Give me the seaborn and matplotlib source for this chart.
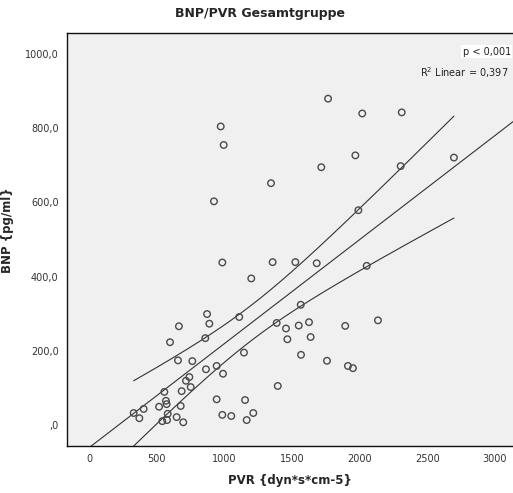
import numpy as np
import pandas as pd
import matplotlib
matplotlib.use("Agg")
import matplotlib.pyplot as plt
import seaborn as sns

# PVR (dyn*s*cm-5) and BNP (pg/ml)
pvr = [972, 994, 1344, 922, 984, 1356, 1524, 1198, 1766, 2019, 2311, 1968,
       1716, 2303, 2697, 1990, 1682, 2052, 871, 663, 888, 1109, 597, 858,
       1386, 1455, 1465, 1144, 656, 762, 863, 942, 989, 740, 715, 750,
       683, 555, 567, 572, 516, 676, 402, 328, 370, 580, 575, 540,
       646, 695, 942, 1152, 984, 1050, 1213, 1164, 1394, 1564, 1549, 1625,
       1637, 1893, 2135, 1566, 1758, 1913, 1950]
bnp = [805, 755, 652, 603, 438, 439, 439, 395, 880, 840, 843, 727,
       695, 698, 721, 579, 436, 429, 299, 266, 273, 291, 223, 234,
       275, 260, 231, 195, 174, 172, 150, 159, 138, 129, 119, 102,
       91, 89, 65, 56, 49, 51, 43, 32, 18, 30, 13, 10,
       21, 7, 69, 67, 27, 24, 32, 13, 105, 324, 268, 277,
       237, 267, 282, 189, 173, 159, 153]

x_ticks = [0, 500, 1000, 1500, 2000, 2500, 3000]
y_ticks = [0, 200, 400, 600, 800, 1000]
y_tick_labels = [",0", "200,0", "400,0", "600,0", "800,0", "1000,0"]

df = pd.DataFrame({"PVR": pvr, "BNP": bnp})

# linear fit + 95% confidence band for the mean
x = df["PVR"].to_numpy(float)
y = df["BNP"].to_numpy(float)
n = len(x)
slope, intercept = np.polyfit(x, y, 1)
resid = y - (intercept + slope * x)
s = np.sqrt(np.sum(resid ** 2) / (n - 2))
sxx = np.sum((x - x.mean()) ** 2)
t_crit = 1.997

xlim = (-165, 3134)
ylim = (-57, 1057)

x_full = np.linspace(*xlim, 200)
x_band = np.linspace(x.min(), x.max(), 200)
fit_band = intercept + slope * x_band
half = t_crit * s * np.sqrt(1 / n + (x_band - x.mean()) ** 2 / sxx)

sns.set_style("white")
plt.rcParams["font.family"] = ["DejaVu Sans"]

fig = plt.figure(figsize=(5.13, 4.93), dpi=100)
ax = fig.add_axes([0.1306, 0.0953, 0.8694, 0.8377])
ax.set_facecolor("#f0f0f0")

line_kw = dict(color="#333333", linewidth=0.8)
ax.plot(x_full, intercept + slope * x_full, **line_kw)
ax.plot(x_band, fit_band + half, **line_kw)
ax.plot(x_band, fit_band - half, **line_kw)

sns.scatterplot(data=df, x="PVR", y="BNP", ax=ax, marker="o", s=22,
                facecolor="none", edgecolor="#4a4a4a", linewidth=1.0,
                zorder=3)

ax.set_xlim(*xlim)
ax.set_ylim(*ylim)
ax.set_xticks(x_ticks)
ax.set_yticks(y_ticks)
ax.set_yticklabels(y_tick_labels)
ax.tick_params(axis="both", labelsize=7, colors="#222222", length=4,
               width=0.8, direction="out", pad=2)
ax.tick_params(axis="both", labelcolor="#333333")

for side in ["left", "bottom", "top"]:
    ax.spines[side].set_color("#111111")
    ax.spines[side].set_linewidth(1.0)
ax.spines["right"].set_visible(False)

ax.set_xlabel("PVR {dyn*s*cm-5}", fontsize=8.5, fontweight="bold", labelpad=7)
ax.set_ylabel("BNP {pg/ml}", fontsize=8.5, fontweight="bold")
ax.yaxis.set_label_coords(-0.118, 0.523)

fig.text(0.506, 0.972, "BNP/PVR Gesamtgruppe", ha="center", va="center",
         fontsize=9, fontweight="bold")

ax.text(0.995, 0.955, "p < 0,001", transform=ax.transAxes, ha="right",
        va="center", fontsize=7, color="#222222",
        bbox=dict(facecolor="white", edgecolor="none", pad=1))
ax.text(0.99, 0.905, "R$^2$ Linear = 0,397", transform=ax.transAxes,
        ha="right", va="center", fontsize=7, color="#222222")

fig.savefig("out.png", dpi=100)
